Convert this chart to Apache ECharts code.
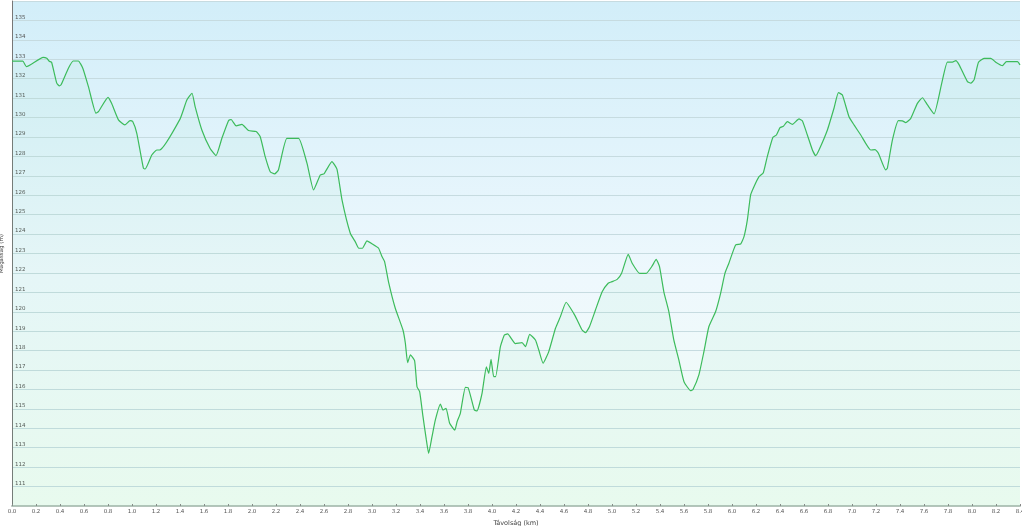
<!DOCTYPE html>
<html>
<head>
<meta charset="utf-8">
<script src="https://cdn.jsdelivr.net/npm/echarts@6/dist/echarts.min.js"></script>
<style>
html,body{margin:0;padding:0;background:#fff;}
#chart{width:1022px;height:526px;}
</style>
</head>
<body>
<div id="chart"></div>
<script>
// Distance (km)
const distances = [0.00,0.09,0.12,0.26,0.29,0.31,0.33,0.373,0.395,0.41,0.47,0.51,0.553,0.59,0.637,0.70,0.72,0.80,0.83,0.887,0.94,0.984,1.006,1.04,1.095,1.11,1.165,1.207,1.23,1.40,1.457,1.50,1.526,1.582,1.65,1.70,1.749,1.804,1.826,1.868,1.916,1.971,2.035,2.068,2.11,2.152,2.188,2.22,2.291,2.388,2.458,2.513,2.569,2.60,2.666,2.708,2.75,2.819,2.86,2.89,2.92,2.958,3.0,3.055,3.083,3.105,3.14,3.194,3.258,3.278,3.297,3.32,3.355,3.375,3.397,3.425,3.453,3.472,3.50,3.528,3.57,3.592,3.617,3.647,3.69,3.709,3.736,3.778,3.80,3.853,3.875,3.917,3.953,3.973,3.992,4.014,4.03,4.07,4.103,4.13,4.195,4.25,4.279,4.314,4.362,4.39,4.426,4.473,4.529,4.57,4.618,4.681,4.71,4.751,4.779,4.812,4.862,4.918,4.968,5.0,5.043,5.08,5.135,5.168,5.23,5.285,5.335,5.368,5.396,5.432,5.474,5.515,5.557,5.6,5.655,5.675,5.724,5.766,5.807,5.863,5.905,5.941,5.974,6.03,6.072,6.10,6.128,6.155,6.183,6.225,6.261,6.294,6.341,6.37,6.40,6.428,6.461,6.503,6.558,6.586,6.628,6.67,6.697,6.725,6.795,6.85,6.887,6.92,6.975,7.017,7.073,7.156,7.192,7.22,7.281,7.295,7.337,7.387,7.42,7.448,7.49,7.545,7.587,7.629,7.684,7.748,7.795,7.837,7.865,7.893,7.962,7.99,8.017,8.054,8.10,8.157,8.198,8.254,8.287,8.379,8.40];
// Elevation (m)
const elevations = [132.9,132.9,132.62,133.1,133.05,132.9,132.85,131.77,131.63,131.7,132.54,132.91,132.91,132.54,131.59,130.22,130.3,131.04,130.73,129.88,129.62,129.84,129.8,129.19,127.39,127.35,128.07,128.33,128.33,129.92,130.9,131.25,130.56,129.36,128.42,128.04,128.93,129.84,129.9,129.57,129.65,129.33,129.28,129.02,127.99,127.21,127.1,127.3,128.93,128.93,127.65,126.27,127.04,127.1,127.73,127.34,125.76,124.04,123.61,123.27,123.27,123.65,123.5,123.27,122.84,122.58,121.47,120.18,119.06,118.38,117.38,117.78,117.48,116.14,115.89,114.6,113.4,112.71,113.57,114.43,115.24,114.94,115.03,114.26,113.91,114.34,114.77,116.11,116.1,114.94,114.9,115.8,117.17,116.83,117.55,116.66,116.66,118.2,118.8,118.86,118.36,118.41,118.2,118.84,118.55,118.03,117.35,117.95,119.15,119.75,120.49,119.92,119.58,119.06,118.92,119.23,120.09,121.03,121.47,121.55,121.67,121.98,122.96,122.5,121.98,121.98,122.36,122.7,122.32,121.03,120.0,118.55,117.52,116.4,115.94,116.0,116.75,117.95,119.23,120.0,120.95,121.98,122.5,123.44,123.49,123.87,124.73,126.01,126.44,126.96,127.16,127.99,128.98,129.1,129.48,129.55,129.79,129.65,129.93,129.83,129.1,128.33,128.04,128.33,129.36,130.48,131.28,131.16,130.04,129.62,129.1,128.33,128.35,128.16,127.3,127.4,128.85,129.84,129.83,129.74,129.96,130.73,131.02,130.65,130.19,131.77,132.85,132.85,132.93,132.71,131.85,131.77,131.94,132.85,133.05,133.05,132.85,132.67,132.88,132.88,132.71];
const xAxisName = 'Távolság (km)';
const yAxisName = 'Magasság (m)';

const chart = echarts.init(document.getElementById('chart'), null, {renderer:'canvas'});
const points = distances.map((d,i)=>[d, elevations[i]]);
chart.setOption({
  animation:false,
  backgroundColor:'#ffffff',
  grid:{left:12,right:2,top:1,bottom:20,show:true,borderWidth:0,
    containLabel:false,outerBoundsMode:'none',
    backgroundColor:new echarts.graphic.LinearGradient(0,0,0,1,[
      {offset:0,color:'#d2eef9'},
      {offset:0.55,color:'#eef8fd'},
      {offset:1,color:'#f1fcf4'}
    ])},
  xAxis:{type:'value',min:0,max:8.4,interval:0.2,
    name:xAxisName,nameLocation:'middle',nameGap:8,
    nameTextStyle:{fontSize:6.5,color:'#444',fontFamily:'DejaVu Sans'},
    axisLine:{show:true,lineStyle:{color:'#b4c4bb',width:2}},
    axisTick:{show:true,inside:true,length:2,lineStyle:{color:'#888'}},
    axisLabel:{fontSize:5.5,color:'#555',margin:3,fontFamily:'DejaVu Sans',
      formatter:v=>v.toFixed(1)},
    splitLine:{show:false}},
  yAxis:{type:'value',min:110,max:136,interval:1,
    name:yAxisName,nameLocation:'middle',nameGap:-4,nameRotate:90,
    nameTextStyle:{fontSize:5.5,color:'#444',fontFamily:'DejaVu Sans'},
    axisLine:{show:true,lineStyle:{color:'#777',width:1}},
    axisTick:{show:false},
    axisLabel:{inside:true,fontSize:5.5,color:'#555',margin:3,verticalAlign:'bottom',
      fontFamily:'DejaVu Sans',
      formatter:v=>(v<=110||v>=136)?'':String(v)},
    splitLine:{show:true,lineStyle:{color:'#c6dbe0',width:1}}},
  series:[{type:'line',data:points,showSymbol:false,smooth:0.15,
    lineStyle:{color:'#3cbb5b',width:1.2},
    areaStyle:{color:'rgba(90,215,150,0.08)',origin:'start'}}]
});
</script>
</body>
</html>
